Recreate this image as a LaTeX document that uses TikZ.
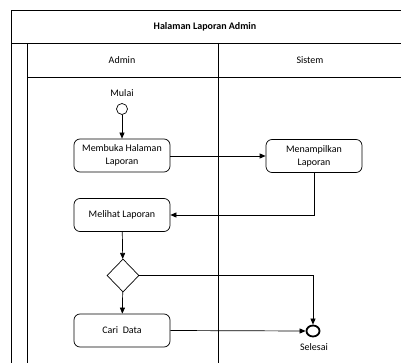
\documentclass[tikz,border=0pt]{standalone}
\usepackage{fontspec}
\setmainfont{Carlito}
\usetikzlibrary{arrows.meta,shapes.geometric}
\begin{document}
\begin{tikzpicture}[x=1pt,y=-1pt,
  lane/.style={line width=0.8pt,draw=black},
  act/.style={draw,line width=0.7pt,rounded corners=6pt,minimum width=96pt,minimum height=33pt,
    align=center,inner sep=2pt,font=\fontsize{10}{13}\selectfont},
  lbl/.style={font=\fontsize{10}{13}\selectfont,inner sep=0pt},
  flow/.style={line width=0.7pt,-{Triangle[length=6pt,width=5pt]}},
  decision/.style={draw,diamond,line width=0.7pt,minimum width=32pt,minimum height=33pt,inner sep=0pt},
  startnode/.style={draw,circle,line width=0.7pt,minimum size=11pt,inner sep=0pt},
  endnode/.style={draw,ellipse,line width=1.8pt,minimum width=13pt,minimum height=11pt,inner sep=0pt}]
\useasboundingbox (0,0) rectangle (401,363);
\clip (0,0) rectangle (401,363);

% swimlane frame
\draw[lane] (11,380) -- (11,10) -- (420,10);
\draw[lane] (11,43) -- (420,43);
\draw[lane] (27,380) -- (27,43);
\draw[lane] (27,77) -- (420,77);
\draw[lane] (218,43) -- (218,380);

% headers
\node[lbl,font=\fontsize{10}{13}\selectfont\bfseries] (title) at (205,26.5) {Halaman Laporan Admin};
\node[lbl] (hadmin) at (122,60) {Admin};
\node[lbl] (hsistem) at (310,60) {Sistem};

% activity nodes
\node[lbl] (mulai) at (122,93) {Mulai};
\node[startnode] (start) at (122,109) {};
\node[act] (buka) at (122,155.5) {Membuka Halaman\\Laporan};
\node[act] (tampil) at (314,156) {Menampilkan\\Laporan};
\node[act] (lihat) at (122,215) {Melihat Laporan};
\node[decision] (dec) at (123,275.5) {};
\node[act] (cari) at (122,330.5) {Cari\ \ Data};
\node[endnode] (end) at (313,331) {};
\node[lbl] (selesai) at (314,347) {Selesai};

% connectors
\draw[flow] (start) -- (buka);
\draw[flow] (buka.east |- 0,156) -- (tampil.west);
\draw[flow] (tampil.south) |- (lihat.east);
\draw[flow] (lihat) -- (dec);
\draw[flow] (dec) -- (cari);
\draw[flow] (dec.east) -| (end.north);
\draw[flow] (cari.east) -- (end.west);
\end{tikzpicture}
\end{document}
